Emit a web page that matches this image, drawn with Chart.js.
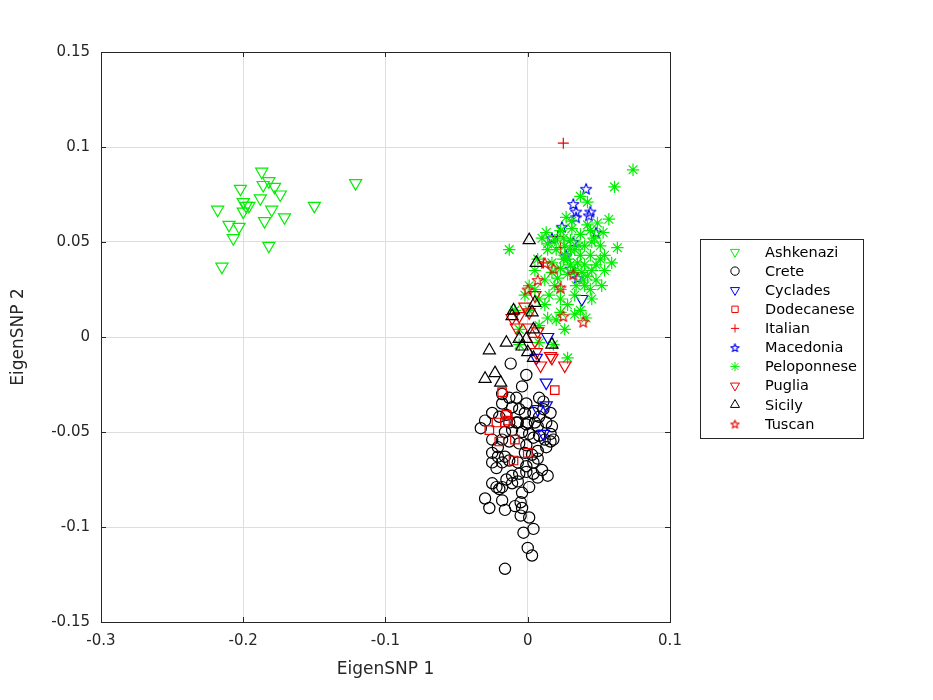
<!DOCTYPE html>
<html>
<head>
<meta charset="utf-8">
<title>EigenSNP</title>
<script src="https://cdn.jsdelivr.net/npm/chart.js"></script>
<style>
  html, body { margin: 0; padding: 0; background: #fff; }
  #chart { display: block; }
</style>
</head>
<body>
<canvas id="chart" width="933" height="700"></canvas>
<script>
const groups = ['Ashkenazi', 'Crete', 'Cyclades', 'Dodecanese', 'Italian',
                'Macedonia', 'Peloponnese', 'Puglia', 'Sicily', 'Tuscan'];

const xTicks = [-0.3, -0.2, -0.1, 0, 0.1];
const xTickLabels = ['-0.3', '-0.2', '-0.1', '0', '0.1'];
const yTicks = [-0.15, -0.1, -0.05, 0, 0.05, 0.1, 0.15];
const yTickLabels = ['-0.15', '-0.1', '-0.05', '0', '0.05', '0.1', '0.15'];

// [EigenSNP 1, EigenSNP 2] per sample
const ashkenazi = [
  [-0.187, 0.087], [-0.182, 0.082], [-0.186, 0.080], [-0.178, 0.079], [-0.174, 0.075],
  [-0.202, 0.078], [-0.121, 0.081], [-0.188, 0.073], [-0.200, 0.071], [-0.196, 0.069],
  [-0.200, 0.066], [-0.218, 0.067], [-0.180, 0.067], [-0.150, 0.069], [-0.171, 0.063],
  [-0.185, 0.061], [-0.210, 0.059], [-0.203, 0.058], [-0.207, 0.052], [-0.182, 0.048],
  [-0.215, 0.037], [-0.198, 0.069]
];
const crete = [
  [-0.033, -0.048], [-0.025, -0.061], [-0.030, -0.085], [-0.027, -0.090], [-0.018, -0.086],
  [-0.016, -0.091], [-0.009, -0.089], [-0.005, -0.087], [-0.004, -0.090], [-0.005, -0.094],
  [0.001, -0.095], [0.004, -0.101], [-0.003, -0.103], [0.000, -0.111], [0.003, -0.115],
  [-0.016, -0.122], [-0.025, -0.077], [-0.022, -0.079], [-0.020, -0.080], [-0.018, -0.079],
  [-0.011, -0.077], [-0.007, -0.076], [-0.004, -0.082], [0.001, -0.079], [0.007, -0.074],
  [0.014, -0.073], [0.010, -0.070], [0.004, -0.072], [-0.001, -0.071], [-0.006, -0.072],
  [-0.011, -0.073], [-0.015, -0.075], [-0.022, -0.069], [-0.018, -0.066], [-0.021, -0.063],
  [-0.016, -0.063], [-0.013, -0.065], [-0.007, -0.066], [-0.001, -0.068], [0.004, -0.066],
  [0.007, -0.064], [0.003, -0.062], [-0.002, -0.061], [0.007, -0.060], [0.013, -0.058],
  [0.016, -0.055], [0.018, -0.054], [0.012, -0.054], [0.016, -0.051], [0.008, -0.052],
  [0.001, -0.051], [-0.004, -0.050], [-0.011, -0.049], [-0.016, -0.050], [-0.018, -0.054],
  [-0.013, -0.055], [-0.006, -0.056], [-0.001, -0.057], [0.004, -0.053], [-0.025, -0.054],
  [-0.021, -0.058], [-0.025, -0.066], [0.007, -0.047], [-0.001, -0.046], [-0.008, -0.045],
  [-0.013, -0.045], [-0.001, -0.020], [-0.012, -0.014], [-0.018, -0.035], [-0.013, -0.032],
  [-0.008, -0.032], [-0.018, -0.030], [-0.004, -0.026], [-0.002, -0.040], [0.008, -0.032],
  [0.011, -0.034], [0.011, -0.038], [0.016, -0.040], [0.008, -0.042], [0.004, -0.040],
  [-0.006, -0.038], [-0.011, -0.037], [-0.015, -0.041], [-0.020, -0.042], [-0.025, -0.040],
  [-0.030, -0.044], [-0.007, -0.045], [0.000, -0.045], [0.005, -0.045], [0.017, -0.047],
  [0.013, -0.045], [-0.001, -0.035]
];
const cyclades = [
  [0.014, 0.000], [0.038, 0.020], [0.013, -0.024], [0.013, -0.036], [0.007, -0.038],
  [0.011, -0.051], [0.006, -0.011]
];
const dodecanese = [
  [0.019, -0.028], [-0.018, -0.029], [-0.015, -0.041], [-0.022, -0.045], [-0.014, -0.044],
  [-0.027, -0.049], [-0.020, -0.055], [-0.009, -0.054], [-0.016, -0.045], [0.000, -0.061],
  [-0.010, -0.065]
];
const italian = [
  [0.025, 0.102], [0.021, 0.053], [0.011, 0.039], [0.023, 0.047]
];
const macedonia = [
  [0.041, 0.078], [0.032, 0.070], [0.034, 0.066], [0.044, 0.066], [0.043, 0.064],
  [0.034, 0.063], [0.048, 0.055], [0.024, 0.058], [0.032, 0.050], [0.027, 0.043],
  [0.030, 0.036], [0.035, 0.031], [0.017, 0.052]
];
const peloponnese = [
  [0.074, 0.088], [0.061, 0.079], [0.037, 0.074], [0.042, 0.071], [0.027, 0.063],
  [0.049, 0.060], [0.057, 0.062], [0.063, 0.047], [0.013, 0.055], [-0.013, 0.046],
  [0.047, 0.052], [0.051, 0.041], [0.054, 0.035], [0.044, 0.025], [0.023, 0.020],
  [0.012, 0.017], [0.033, 0.012], [0.026, 0.004], [0.008, 0.006], [-0.006, -0.004],
  [-0.009, 0.014], [0.001, 0.027], [0.005, 0.035], [0.014, 0.046], [0.019, 0.051],
  [0.023, 0.056], [0.031, 0.057], [0.037, 0.054], [0.040, 0.048], [0.044, 0.043],
  [0.035, 0.039], [0.026, 0.043], [0.017, 0.039], [0.012, 0.030], [0.019, 0.027],
  [0.028, 0.033], [0.038, 0.034], [0.048, 0.030], [0.045, 0.020], [0.033, 0.022],
  [0.023, 0.025], [0.015, 0.022], [0.008, 0.020], [0.005, 0.025], [-0.002, 0.022],
  [0.026, 0.048], [0.030, 0.051], [0.033, 0.046], [0.023, 0.036], [0.040, 0.038],
  [0.051, 0.048], [0.054, 0.043], [0.044, 0.056], [0.031, 0.061], [0.014, 0.049],
  [0.007, 0.041], [0.001, 0.014], [0.014, 0.010], [0.023, 0.013], [0.008, -0.003],
  [0.018, -0.004], [0.028, -0.011], [-0.006, 0.004], [0.041, 0.010], [0.052, 0.027],
  [0.059, 0.039], [0.037, 0.014], [0.028, 0.017], [0.020, 0.009], [0.045, 0.050],
  [0.034, 0.027], [0.025, 0.052], [0.017, 0.034], [0.010, 0.052], [0.048, 0.038],
  [0.039, 0.030], [0.030, 0.038], [0.020, 0.046], [0.042, 0.059], [0.053, 0.055],
  [0.033, 0.035], [0.037, 0.043], [0.030, 0.046], [0.025, 0.041], [0.040, 0.027],
  [0.045, 0.035], [0.028, 0.041], [0.036, 0.048], [0.021, 0.031], [0.042, 0.032]
];
const puglia = [
  [0.005, 0.022], [-0.002, 0.016], [-0.006, 0.011], [0.001, 0.013], [-0.008, 0.005],
  [0.001, 0.005], [0.007, 0.003], [0.005, -0.002], [0.006, -0.008], [0.009, -0.015],
  [0.017, -0.011], [0.026, -0.015], [0.016, -0.010], [-0.011, 0.010]
];
const sicily = [
  [0.001, 0.051], [0.006, 0.039], [-0.010, 0.014], [-0.011, 0.011], [0.005, 0.018],
  [0.003, 0.013], [0.004, 0.004], [-0.006, -0.001], [-0.001, -0.001], [-0.015, -0.003],
  [-0.027, -0.007], [-0.004, -0.005], [0.000, -0.008], [0.004, -0.011], [0.017, -0.004],
  [-0.030, -0.022], [-0.023, -0.019], [-0.019, -0.024]
];
const tuscan = [
  [0.018, 0.036], [0.032, 0.033], [0.007, 0.030], [0.000, 0.025], [0.023, 0.026],
  [0.025, 0.011], [0.039, 0.008], [0.012, 0.039]
];

const groupData = [ashkenazi, crete, cyclades, dodecanese, italian,
                   macedonia, peloponnese, puglia, sicily, tuscan];

const GREEN = '#00ee00', BLACK = '#000000', BLUE = '#0000ee', RED = '#ee0000';
const groupColors = [GREEN, BLACK, BLUE, RED, RED, BLUE, GREEN, RED, BLACK, RED];
const groupMarkers = ['triangle', 'circle', 'triangle', 'rect', 'cross',
                      'pentagram', 'star', 'triangle', 'triangle', 'pentagram'];
const groupRotation = [180, 0, 180, 0, 0, 0, 0, 180, 0, 0];
const groupRadius = [7, 5.6, 7, 6, 5.5, 5.8, 6.2, 7, 7, 5.8];

// MATLAB-like 'p' marker as a small canvas
function pentagram(r, color, lw) {
  const size = Math.ceil(2 * r + lw * 2 + 2);
  const c = document.createElement('canvas');
  c.width = c.height = size;
  const g = c.getContext('2d');
  g.strokeStyle = color;
  g.lineWidth = lw;
  g.lineJoin = 'round';
  g.beginPath();
  for (let k = 0; k < 10; k++) {
    const rr = k % 2 ? r * 0.42 : r;
    const a = -Math.PI / 2 + k * Math.PI / 5;
    const px = size / 2 + rr * Math.cos(a), py = size / 2 + rr * Math.sin(a) + 0.6;
    if (k === 0) g.moveTo(px, py); else g.lineTo(px, py);
  }
  g.closePath();
  g.stroke();
  return c;
}

function markerStyle(i, scale) {
  if (groupMarkers[i] === 'pentagram') return pentagram(groupRadius[i] * scale, groupColors[i], 1.1);
  return groupMarkers[i];
}

const datasets = groups.map((name, i) => ({
  label: name,
  data: groupData[i].map(p => ({ x: p[0], y: p[1] })),
  pointStyle: markerStyle(i, 1),
  pointRotation: groupRotation[i],
  pointRadius: groupRadius[i],
  pointHoverRadius: groupRadius[i],
  pointBorderColor: groupColors[i],
  pointBackgroundColor: 'rgba(0,0,0,0)',
  pointBorderWidth: 1.2,
  showLine: false,
  order: groups.length - i
}));

const FONT = 'DejaVu Sans';
const AXIS_COLOR = '#262626';

const framePlugin = {
  id: 'frame',
  afterDraw(chart) {
    const { ctx, chartArea: a, scales: { x, y } } = chart;
    ctx.save();
    ctx.strokeStyle = AXIS_COLOR;
    ctx.lineWidth = 1;
    ctx.strokeRect(Math.round(a.left) + 0.5, Math.round(a.top) + 0.5,
                   Math.round(a.right - a.left), Math.round(a.bottom - a.top));
    const t = 5;
    ctx.beginPath();
    xTicks.forEach(v => {
      const px = Math.round(x.getPixelForValue(v)) + 0.5;
      ctx.moveTo(px, a.bottom); ctx.lineTo(px, a.bottom - t);
      ctx.moveTo(px, a.top); ctx.lineTo(px, a.top + t);
    });
    yTicks.forEach(v => {
      const py = Math.round(y.getPixelForValue(v)) + 0.5;
      ctx.moveTo(a.left, py); ctx.lineTo(a.left + t, py);
      ctx.moveTo(a.right, py); ctx.lineTo(a.right - t, py);
    });
    ctx.stroke();

    // legend box
    const lx = a.right + 30, ly = 239, lw = 163, rowH = 19.1;
    const lh = rowH * groups.length + 8;
    ctx.fillStyle = '#ffffff';
    ctx.fillRect(lx, ly, lw, lh);
    ctx.strokeStyle = '#262626';
    ctx.strokeRect(lx + 0.5, ly + 0.5, lw, lh);
    ctx.font = '14.5px "' + FONT + '"';
    ctx.textBaseline = 'middle';
    groups.forEach((name, i) => {
      const cy = ly + 13 + i * rowH;
      ctx.strokeStyle = groupColors[i];
      ctx.fillStyle = 'rgba(0,0,0,0)';
      Chart.helpers.drawPoint(ctx, {
        pointStyle: markerStyle(i, 0.75),
        rotation: groupRotation[i],
        radius: groupRadius[i] * 0.75,
        borderWidth: 1.2
      }, lx + 35, cy);
      ctx.fillStyle = '#000000';
      ctx.fillText(name, lx + 65, cy + 1);
    });
    ctx.restore();
  }
};

new Chart(document.getElementById('chart'), {
  type: 'scatter',
  data: { datasets },
  options: {
    responsive: false,
    animation: false,
    events: [],
    layout: { padding: { left: 0, right: 263, top: 52, bottom: 0 } },
    plugins: { legend: { display: false }, tooltip: { enabled: false } },
    scales: {
      x: {
        type: 'linear', min: -0.3, max: 0.1,
        afterBuildTicks: s => { s.ticks = xTicks.map(v => ({ value: v })); },
        afterFit: s => { s.height = 78; },
        grid: { color: '#dedede', drawTicks: false },
        border: { display: false },
        ticks: {
          padding: 10, color: AXIS_COLOR, maxRotation: 0, autoSkip: false,
          font: { family: FONT, size: 15 },
          callback: (v, i) => xTickLabels[i]
        },
        title: {
          display: true, text: 'EigenSNP 1', color: AXIS_COLOR,
          font: { family: FONT, size: 17 }, padding: { top: 0, bottom: 20 }
        }
      },
      y: {
        type: 'linear', min: -0.15, max: 0.15,
        afterBuildTicks: s => { s.ticks = yTicks.map(v => ({ value: v })); },
        afterFit: s => { s.width = 101; },
        grid: { color: '#dedede', drawTicks: false },
        border: { display: false },
        ticks: {
          padding: 11, color: AXIS_COLOR, autoSkip: false,
          font: { family: FONT, size: 15 },
          callback: (v, i) => yTickLabels[i]
        },
        title: {
          display: true, text: 'EigenSNP 2', color: AXIS_COLOR,
          font: { family: FONT, size: 17 }, padding: { top: 8, bottom: 0 }
        }
      }
    }
  },
  plugins: [framePlugin]
});
</script>
</body>
</html>
